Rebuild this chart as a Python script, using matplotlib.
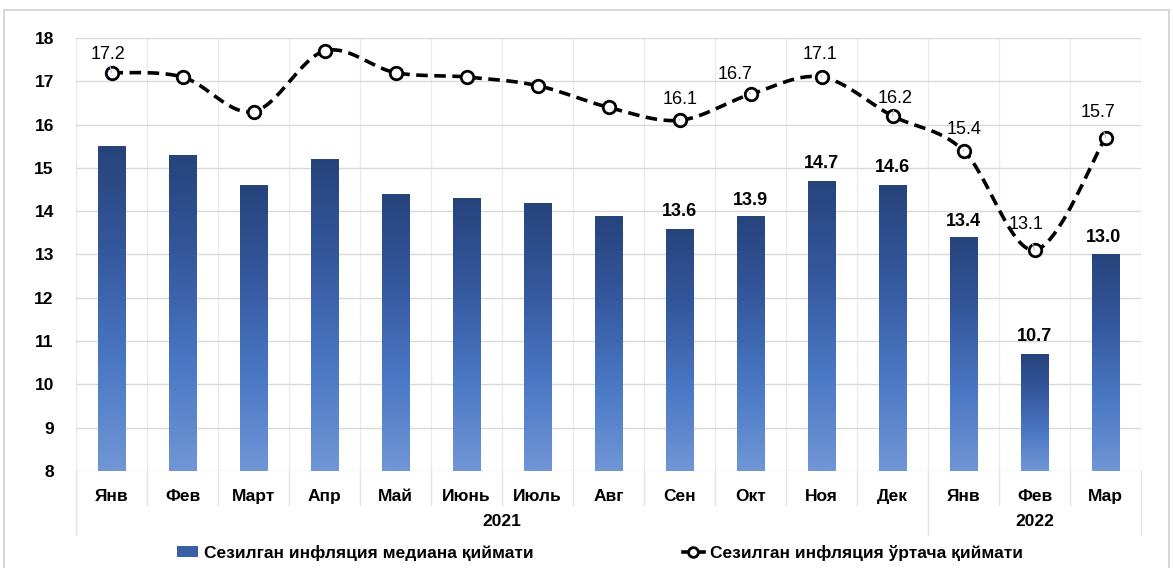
import numpy as np
import matplotlib
matplotlib.use("Agg")
import matplotlib.pyplot as plt
from matplotlib.colors import LinearSegmentedColormap
from matplotlib.patches import Rectangle
from matplotlib.lines import Line2D

plt.rcParams['font.family'] = ['Liberation Sans', 'DejaVu Sans']

months = ['Янв', 'Фев', 'Март', 'Апр', 'Май', 'Июнь', 'Июль', 'Авг',
          'Сен', 'Окт', 'Ноя', 'Дек', 'Янв', 'Фев', 'Мар']
years = ['2021', '2022']
year_counts = [12, 3]
median_vals = [15.5, 15.3, 14.6, 15.2, 14.4, 14.3, 14.2, 13.9,
               13.6, 13.9, 14.7, 14.6, 13.4, 10.7, 13.0]
mean_vals = [17.2, 17.1, 16.3, 17.7, 17.2, 17.1, 16.9, 16.4,
             16.1, 16.7, 17.1, 16.2, 15.4, 13.1, 15.7]
bar_label_idx = [8, 9, 10, 11, 12, 13, 14]
line_label_idx = [0, 8, 9, 10, 11, 12, 13, 14]
legend_labels = ['Сезилган инфляция медиана қиймати',
                 'Сезилган инфляция ўртача қиймати']

# label offsets in pixels (style only)
bar_offsets = {8: (0, 17), 9: (0, 15), 10: (0, 17), 11: (0, 18),
               12: (0, 16), 13: (0, 18), 14: (-2, 17)}
line_offsets = {0: (-4, 18), 8: (1, 21), 9: (-15, 20), 10: (-2, 22),
                11: (3, 17), 12: (1, 21), 13: (-8, 26), 14: (-7, 25)}

fig = plt.figure(figsize=(11.74, 5.68), dpi=100)
ax = fig.add_axes([76 / 1174, 1 - 471 / 568, (1141 - 76) / 1174, (471 - 38) / 568])

# outer frame of the chart
fig.patches.append(Rectangle((4 / 1174, -0.01), 1165 / 1174, 1 - 10 / 568 + 0.01,
                             transform=fig.transFigure, fill=False,
                             edgecolor='#d0d0d0', lw=1.2))

x = np.arange(len(months))
bar_w = 0.39
cmap = LinearSegmentedColormap.from_list(
    'bars', ['#7096d6', '#4a78c4', '#35599f', '#26437b'])
grad = np.linspace(1, 0, 256)[:, None]
bars = ax.bar(x, np.array(median_vals) - 8, bottom=8, width=bar_w,
              color='none', edgecolor='none', zorder=2)
for xi, v, b in zip(x, median_vals, bars):
    im = ax.imshow(grad, extent=[xi - bar_w / 2, xi + bar_w / 2, 8, v],
                   cmap=cmap, aspect='auto', origin='upper', zorder=2)
    im.set_clip_path(b)

# smoothed line (Excel style bezier), computed in screen-like units
k = 43.3 / 71
pts = np.column_stack([x, np.array(mean_vals) * k])
sx, sy = [], []
n = len(pts)
t = np.linspace(0, 1, 30)[:, None]
for i in range(n - 1):
    p0 = pts[i - 1] if i > 0 else pts[i]
    p1 = pts[i]
    p2 = pts[i + 1]
    p3 = pts[i + 2] if i + 2 < n else pts[i + 1]
    c1 = p1 + (p2 - p0) / 6
    c2 = p2 - (p3 - p1) / 6
    seg = ((1 - t) ** 3) * p1 + 3 * ((1 - t) ** 2) * t * c1 + 3 * (1 - t) * t ** 2 * c2 + t ** 3 * p2
    sx.extend(seg[:, 0])
    sy.extend(seg[:, 1] / k)
ax.plot(sx, sy, color='black', lw=2.6, linestyle=(0, (3.2, 1.8)), zorder=3)
ax.plot(x, mean_vals, linestyle='none', marker='o', ms=9, mfc='white',
        mec='black', mew=2, zorder=4)

for i in bar_label_idx:
    dx, dy = bar_offsets[i]
    ax.annotate(f'{median_vals[i]:.1f}', (x[i], median_vals[i]), xytext=(dx, dy),
                textcoords='offset pixels', ha='center', va='center',
                fontsize=13, fontweight='bold', color='black', zorder=5)
for i in line_label_idx:
    dx, dy = line_offsets[i]
    ax.annotate(f'{mean_vals[i]:.1f}', (x[i], mean_vals[i]), xytext=(dx, dy),
                textcoords='offset pixels', ha='center', va='center',
                fontsize=13, color='black', zorder=5,
                arrowprops=dict(arrowstyle='-', color='#b4c2da', lw=0.8,
                                shrinkA=6, shrinkB=6))

ax.set_xlim(-0.5, len(months) - 0.5)
ax.set_ylim(8, 18)
ax.set_yticks(range(8, 19))
ax.set_xticks(x)
ax.set_xticklabels(months, fontsize=12.5, fontweight='bold')
ax.set_xticks(np.arange(-0.5, len(months), 1), minor=True)
ax.tick_params(axis='x', which='both', length=0, pad=13)
ax.tick_params(axis='y', length=0, pad=16, labelsize=12.5)
for lab in ax.get_yticklabels():
    lab.set_fontweight('bold')
ax.grid(axis='y', color='#d9d9d9', lw=1, zorder=0)
ax.grid(axis='x', which='minor', color='#ebebeb', lw=1, zorder=0)
for s in ax.spines.values():
    s.set_visible(False)

# category dividers below the axis and year groups
tr = ax.get_xaxis_transform()
ah = 471 - 38
group_edges = np.concatenate([[0], np.cumsum(year_counts)]) - 0.5
for b in np.arange(-0.5, len(months), 1):
    depth = 64 if b in group_edges else 34
    ax.plot([b, b], [0, -depth / ah], transform=tr, color='#e3e3e3', lw=1, clip_on=False)
for yr, lo, hi in zip(years, group_edges[:-1], group_edges[1:]):
    ax.text((lo + hi) / 2, -51 / ah, yr, transform=tr, ha='center', va='center',
            fontsize=12.5, fontweight='bold')

handles = [Rectangle((0, 0), 1, 1, facecolor='#3b5fa6', edgecolor='none'),
           Line2D([], [], color='black', lw=2.6, marker='o', ms=7, mfc='white',
                  mec='black', mew=2)]
fig.legend(handles, legend_labels, loc='center', bbox_to_anchor=(600 / 1174, 1 - 553 / 568),
           ncol=2, frameon=False, prop={'size': 12.5, 'weight': 'bold'},
           columnspacing=8.6, handlelength=1.2, handletextpad=0.35, handleheight=0.6)

fig.savefig('out.png', dpi=100)
